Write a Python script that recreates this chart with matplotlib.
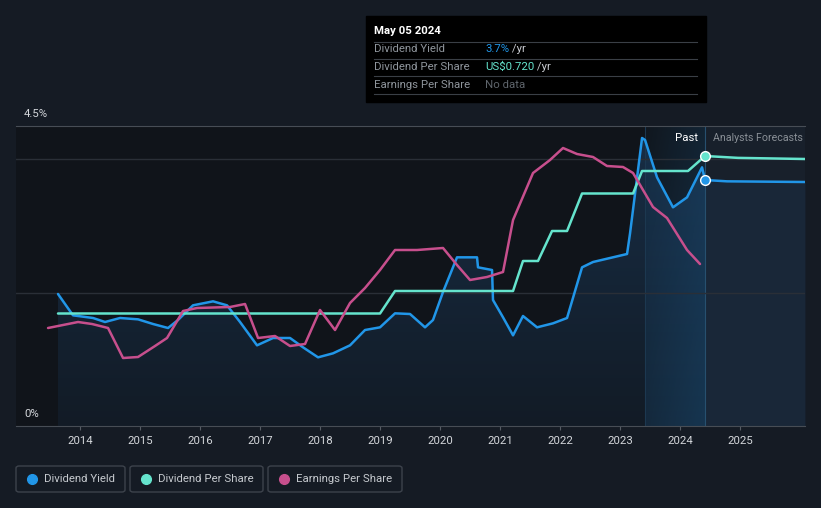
import matplotlib
matplotlib.use("Agg")
import matplotlib.pyplot as plt
from matplotlib import patches
import numpy as np

plt.rcParams['font.family'] = ['Roboto', 'DejaVu Sans']

# dividend yield (%), past + analyst forecast
yield_years = [2013.633, 2013.883, 2014.217, 2014.417, 2014.667, 2014.967, 2015.217, 2015.467,
               2015.633, 2015.883, 2016.217, 2016.45, 2016.667, 2016.95, 2017.217, 2017.5,
               2017.717, 2017.967, 2018.217, 2018.5, 2018.75, 2019.0, 2019.25, 2019.5,
               2019.75, 2019.883, 2020.05, 2020.283, 2020.617, 2020.633, 2020.867, 2020.883,
               2021.05, 2021.217, 2021.383, 2021.617, 2021.883, 2022.117, 2022.367, 2022.55,
               2023.117, 2023.167, 2023.367, 2023.417, 2023.617, 2023.883, 2024.117, 2024.367,
               2024.417]
yield_pct = [1.98, 1.66, 1.62, 1.56, 1.62, 1.60, 1.53, 1.47,
             1.59, 1.81, 1.87, 1.81, 1.56, 1.21, 1.32, 1.32,
             1.18, 1.03, 1.09, 1.21, 1.44, 1.48, 1.69, 1.68,
             1.48, 1.59, 2.01, 2.53, 2.53, 2.38, 2.34, 1.89,
             1.63, 1.36, 1.65, 1.48, 1.54, 1.62, 2.38, 2.46,
             2.58, 2.89, 4.32, 4.29, 3.73, 3.28, 3.43, 3.88,
             3.69]
yield_fc_years = [2024.417, 2024.783, 2026.083]
yield_fc_pct = [3.69, 3.67, 3.66]

# dividend per share (US$)
dps_years = [2013.633, 2019.0, 2019.25, 2021.217, 2021.383, 2021.633, 2021.867, 2022.117,
             2022.367, 2023.217, 2023.367, 2024.133, 2024.417]
dps = [0.30, 0.30, 0.36, 0.36, 0.44, 0.44, 0.52, 0.52,
       0.62, 0.62, 0.68, 0.68, 0.72]
dps_fc_years = [2024.417, 2024.967, 2026.083]
dps_fc = [0.72, 0.715, 0.712]

# earnings per share (relative scale)
eps_years = [2013.467, 2013.967, 2014.2, 2014.467, 2014.717, 2014.967, 2015.25, 2015.45,
             2015.717, 2015.95, 2016.5, 2016.75, 2016.967, 2017.25, 2017.5, 2017.75,
             2018.0, 2018.25, 2018.5, 2018.75, 2019.0, 2019.25, 2019.617, 2020.05,
             2020.283, 2020.5, 2020.783, 2021.05, 2021.217, 2021.55, 2021.833, 2022.05,
             2022.283, 2022.55, 2022.783, 2023.05, 2023.217, 2023.55, 2023.783, 2024.117,
             2024.333]
eps = [0.98, 1.04, 1.02, 0.98, 0.68, 0.69, 0.80, 0.88,
       1.15, 1.18, 1.19, 1.22, 0.88, 0.90, 0.80, 0.82,
       1.16, 0.96, 1.23, 1.38, 1.56, 1.76, 1.76, 1.78,
       1.61, 1.46, 1.49, 1.54, 2.06, 2.53, 2.66, 2.78,
       2.72, 2.69, 2.60, 2.59, 2.53, 2.19, 2.08, 1.76,
       1.62]

year_ticks = list(range(2014, 2026))
now = 2024.417
band_start = 2023.417
x_min, x_max = 2012.933, 2026.083

BG = '#151b24'
BLUE = '#2196e8'
TEAL = '#65e4cd'
PINK = '#c74f8d'
FS = 8.2
LW = 1.8

W, H = 821, 508
fig = plt.figure(figsize=(W / 100, H / 100), dpi=100, facecolor=BG)


def fx(px):
    return px / W


def fy(py):
    return 1 - py / H


ax = fig.add_axes([fx(16), fy(426), fx(805) - fx(16), (426 - 126) / H])
ax.set_facecolor('#10141a')
ax.set_xlim(x_min, x_max)
ax.set_ylim(0, 4.5)

# forecast area
ax.axvspan(now, x_max, color='#18202b', zorder=0, lw=0)

# gradient under yield line (past)
xs = np.array(yield_years)
ys = np.array(yield_pct)
grad = np.zeros((100, 2, 4))
grad[..., 0], grad[..., 1], grad[..., 2] = 0.12, 0.27, 0.42
grad[..., 3] = np.linspace(0.55, 0.15, 100)[:, None]
poly = ax.fill_between(xs, ys, 0, color='none', lw=0)
im = ax.imshow(grad, extent=[xs[0], xs[-1], 0, 4.5], aspect='auto', zorder=1,
               origin='upper')
im.set_clip_path(poly.get_paths()[0], transform=ax.transData)

# forecast fill under yield
ax.fill_between(yield_fc_years, yield_fc_pct, 0, color='#1c3148', alpha=0.45, lw=0, zorder=1)

# highlighted last year band
band = np.zeros((50, 50, 4))
band[..., 0], band[..., 1], band[..., 2] = 0.12, 0.40, 0.62
gx = np.linspace(0.04, 0.2, 50)[None, :]
gy = np.linspace(0.0, 0.15, 50)[:, None]
band[..., 3] = gx + gy
ax.imshow(band, extent=[band_start, now, 0, 4.5], aspect='auto', zorder=1.5, origin='upper')
ax.axvline(band_start, color='#1c3850', lw=0.8, zorder=1.6)
ax.axvline(now, color='#27506f', lw=0.8, zorder=1.6)

for g in [2, 4]:
    ax.axhline(g, color='#2a2f37', lw=1, zorder=1.7)

line_kw = dict(lw=LW, zorder=5, solid_joinstyle='round', solid_capstyle='round')
ax.plot(yield_years, yield_pct, color=BLUE, **line_kw)
ax.plot(yield_fc_years, yield_fc_pct, color=BLUE, **line_kw)
ax.plot([now], [yield_fc_pct[0]], 'o', ms=7, color=BLUE, mec='white', mew=1, zorder=8)

# dividend per share on its own scale
ax2 = ax.twinx()
ax2.set_ylim(0, 0.8)
ax2.plot(dps_years, dps, color=TEAL, **line_kw)
ax2.plot(dps_fc_years, dps_fc, color=TEAL, **line_kw)
ax2.plot([now], [dps_fc[0]], 'o', ms=7, color=TEAL, mec='white', mew=1, zorder=8)

# earnings per share on its own scale
ax3 = ax.twinx()
ax3.set_ylim(0, 3.0)
ax3.plot(eps_years, eps, color=PINK, **line_kw)

for a in (ax2, ax3):
    a.set_xlim(x_min, x_max)
    a.axis('off')

for s in ['left', 'right']:
    ax.spines[s].set_visible(False)
ax.spines['top'].set_color('#474d55')
ax.spines['bottom'].set_color('#474d55')
ax.set_yticks([])
ax.set_xticks(year_ticks)
ax.set_xticklabels([str(y) for y in year_ticks])
ax.tick_params(axis='x', colors='#555b63', length=3, pad=4, labelsize=FS, labelcolor='#d4d7db')

fig.text(fx(24), fy(114), '4.5%', color='#d4d7db', fontsize=FS, va='center')
fig.text(fx(24), fy(414), '0%', color='#d4d7db', fontsize=FS, va='center')

ax.text(2024.3, 4.32, 'Past', color='white', fontsize=FS, ha='right', va='center', zorder=9)
ax.text(2024.55, 4.32, 'Analysts Forecasts', color='#8a9097', fontsize=7.7, ha='left',
        va='center', clip_on=True, zorder=9)

# tooltip
fig.add_artist(patches.Rectangle((fx(366), fy(102)), fx(706) - fx(366), (102 - 16) / H,
                                 transform=fig.transFigure, color='black', zorder=10))
fig.text(fx(374), fy(31), 'May 05 2024', color='white', fontsize=FS, fontweight='bold',
         va='center', zorder=11)
for ly in [41.5, 58.5, 76, 93.5]:
    fig.add_artist(plt.Line2D([fx(374), fx(697)], [fy(ly), fy(ly)], transform=fig.transFigure,
                              color='#3a3f46', lw=0.8, zorder=11))
rows = [('Dividend Yield', '3.7%', BLUE, ' /yr'),
        ('Dividend Per Share', 'US$0.720', TEAL, ' /yr'),
        ('Earnings Per Share', 'No data', '#5f656c', '')]
renderer = fig.canvas.get_renderer()
for i, (lab, val, col, unit) in enumerate(rows):
    y = 49.5 + i * 17.5
    fig.text(fx(374), fy(y), lab, color='#8f959c', fontsize=FS, va='center', zorder=11)
    t = fig.text(fx(485), fy(y), val, color=col, fontsize=FS, va='center', zorder=11)
    if unit:
        bb = t.get_window_extent(renderer)
        fig.text(bb.x1 / W, fy(y), unit, color='#c8cbd0', fontsize=FS, va='center', zorder=11)

# legend
legend_items = [('Dividend Yield', BLUE, 16, 125), ('Dividend Per Share', TEAL, 130, 263),
                ('Earnings Per Share', PINK, 268, 402)]
for lab, col, x0, x1 in legend_items:
    fig.add_artist(patches.FancyBboxPatch((fx(x0), fy(492)), fx(x1) - fx(x0), 26 / H,
                                          boxstyle='round,pad=0,rounding_size=0.004',
                                          transform=fig.transFigure, fc='none',
                                          ec='#3d434c', lw=1))
    fig.add_artist(plt.Line2D([fx(x0 + 16)], [fy(479)], marker='o', ms=7, color=col,
                              transform=fig.transFigure, lw=0))
    fig.text(fx(x0 + 28), fy(479), lab, color='#c5c9ce', fontsize=FS, va='center')

fig.savefig('out.png', dpi=100, facecolor=BG)
